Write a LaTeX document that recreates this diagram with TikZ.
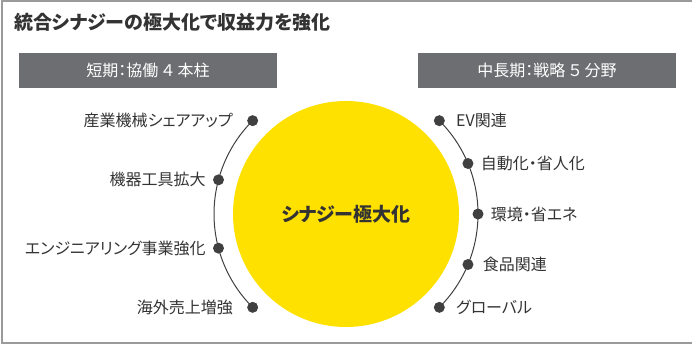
\documentclass[tikz,border=0pt]{standalone}
\usepackage{fontspec}
\setmainfont{Noto Sans CJK JP}[RawFeature=+palt]
\usetikzlibrary{positioning}
\definecolor{synyellow}{HTML}{FFE100}
\definecolor{bargray}{HTML}{6D6E71}
\definecolor{dotgray}{HTML}{404040}
\definecolor{textgray}{HTML}{333333}
\definecolor{framegray}{HTML}{9A9A9A}

\begin{document}
\begin{tikzpicture}[
  x=1pt, y=1pt,
  bar/.style={fill=bargray, minimum width=258pt, minimum height=35pt, text=white, font=\fontsize{16}{18}\selectfont},
  dot/.style={circle, fill=dotgray, inner sep=0pt, minimum size=11pt},
  lbl/.style={inner sep=0pt, text=textgray, font=\fontsize{16}{18}\selectfont},
  arcline/.style={dotgray, line width=1pt}
]
\useasboundingbox (0,0) rectangle (692,346);

% Frame and title
\draw[framegray, line width=1.5pt] (700,345) -- (2,345) -- (2,3) -- (700,3);
\node[anchor=west, inner sep=0pt, text=textgray, font=\bfseries\fontsize{19}{20}\selectfont] (title) at (14,324) {統合シナジーの極大化で収益力を強化};

% Headers
\node[bar] (short) at (148,275.5) {短期：協働 ４ 本柱};
\node[bar] (mid) at (547,275.5) {中長期：戦略 ５ 分野};

% Core
\node[circle, fill=synyellow, minimum size=226pt, inner sep=0pt, text=textgray, font=\bfseries\fontsize{19}{20}\selectfont] (core) at (346,132) {シナジー極大化};

% Dots
\node[dot] (l1) at ([shift={(135:132)}]core.center) {};
\node[dot] (l2) at ([shift={(165:132)}]core.center) {};
\node[dot] (l3) at ([shift={(195:132)}]core.center) {};
\node[dot] (l4) at ([shift={(225:132)}]core.center) {};
\node[dot] (r1) at ([shift={(45:132)}]core.center) {};
\node[dot] (r2) at ([shift={(22.5:132)}]core.center) {};
\node[dot] (r3) at ([shift={(0:132)}]core.center) {};
\node[dot] (r4) at ([shift={(-22.5:132)}]core.center) {};
\node[dot] (r5) at ([shift={(-45:132)}]core.center) {};

% Arcs
\draw[arcline] (l1.center) arc[start angle=135, end angle=225, radius=132];
\draw[arcline] (r1.center) arc[start angle=45, end angle=-45, radius=132];

% Labels
\node[lbl, left=14pt of l1] (l1t) {産業機械シェアアップ};
\node[lbl, left=7pt of l2] (l2t) {機器工具拡大};
\node[lbl, left=7pt of l3] (l3t) {エンジニアリング事業強化};
\node[lbl, left=14pt of l4] (l4t) {海外売上増強};
\node[lbl, right=11pt of r1] (r1t) {EV関連};
\node[lbl, right=7pt of r2] (r2t) {自動化・省人化};
\node[lbl, right=7pt of r3] (r3t) {環境・省エネ};
\node[lbl, right=9pt of r4] (r4t) {食品関連};
\node[lbl, right=11pt of r5] (r5t) {グローバル};
\end{tikzpicture}
\end{document}
